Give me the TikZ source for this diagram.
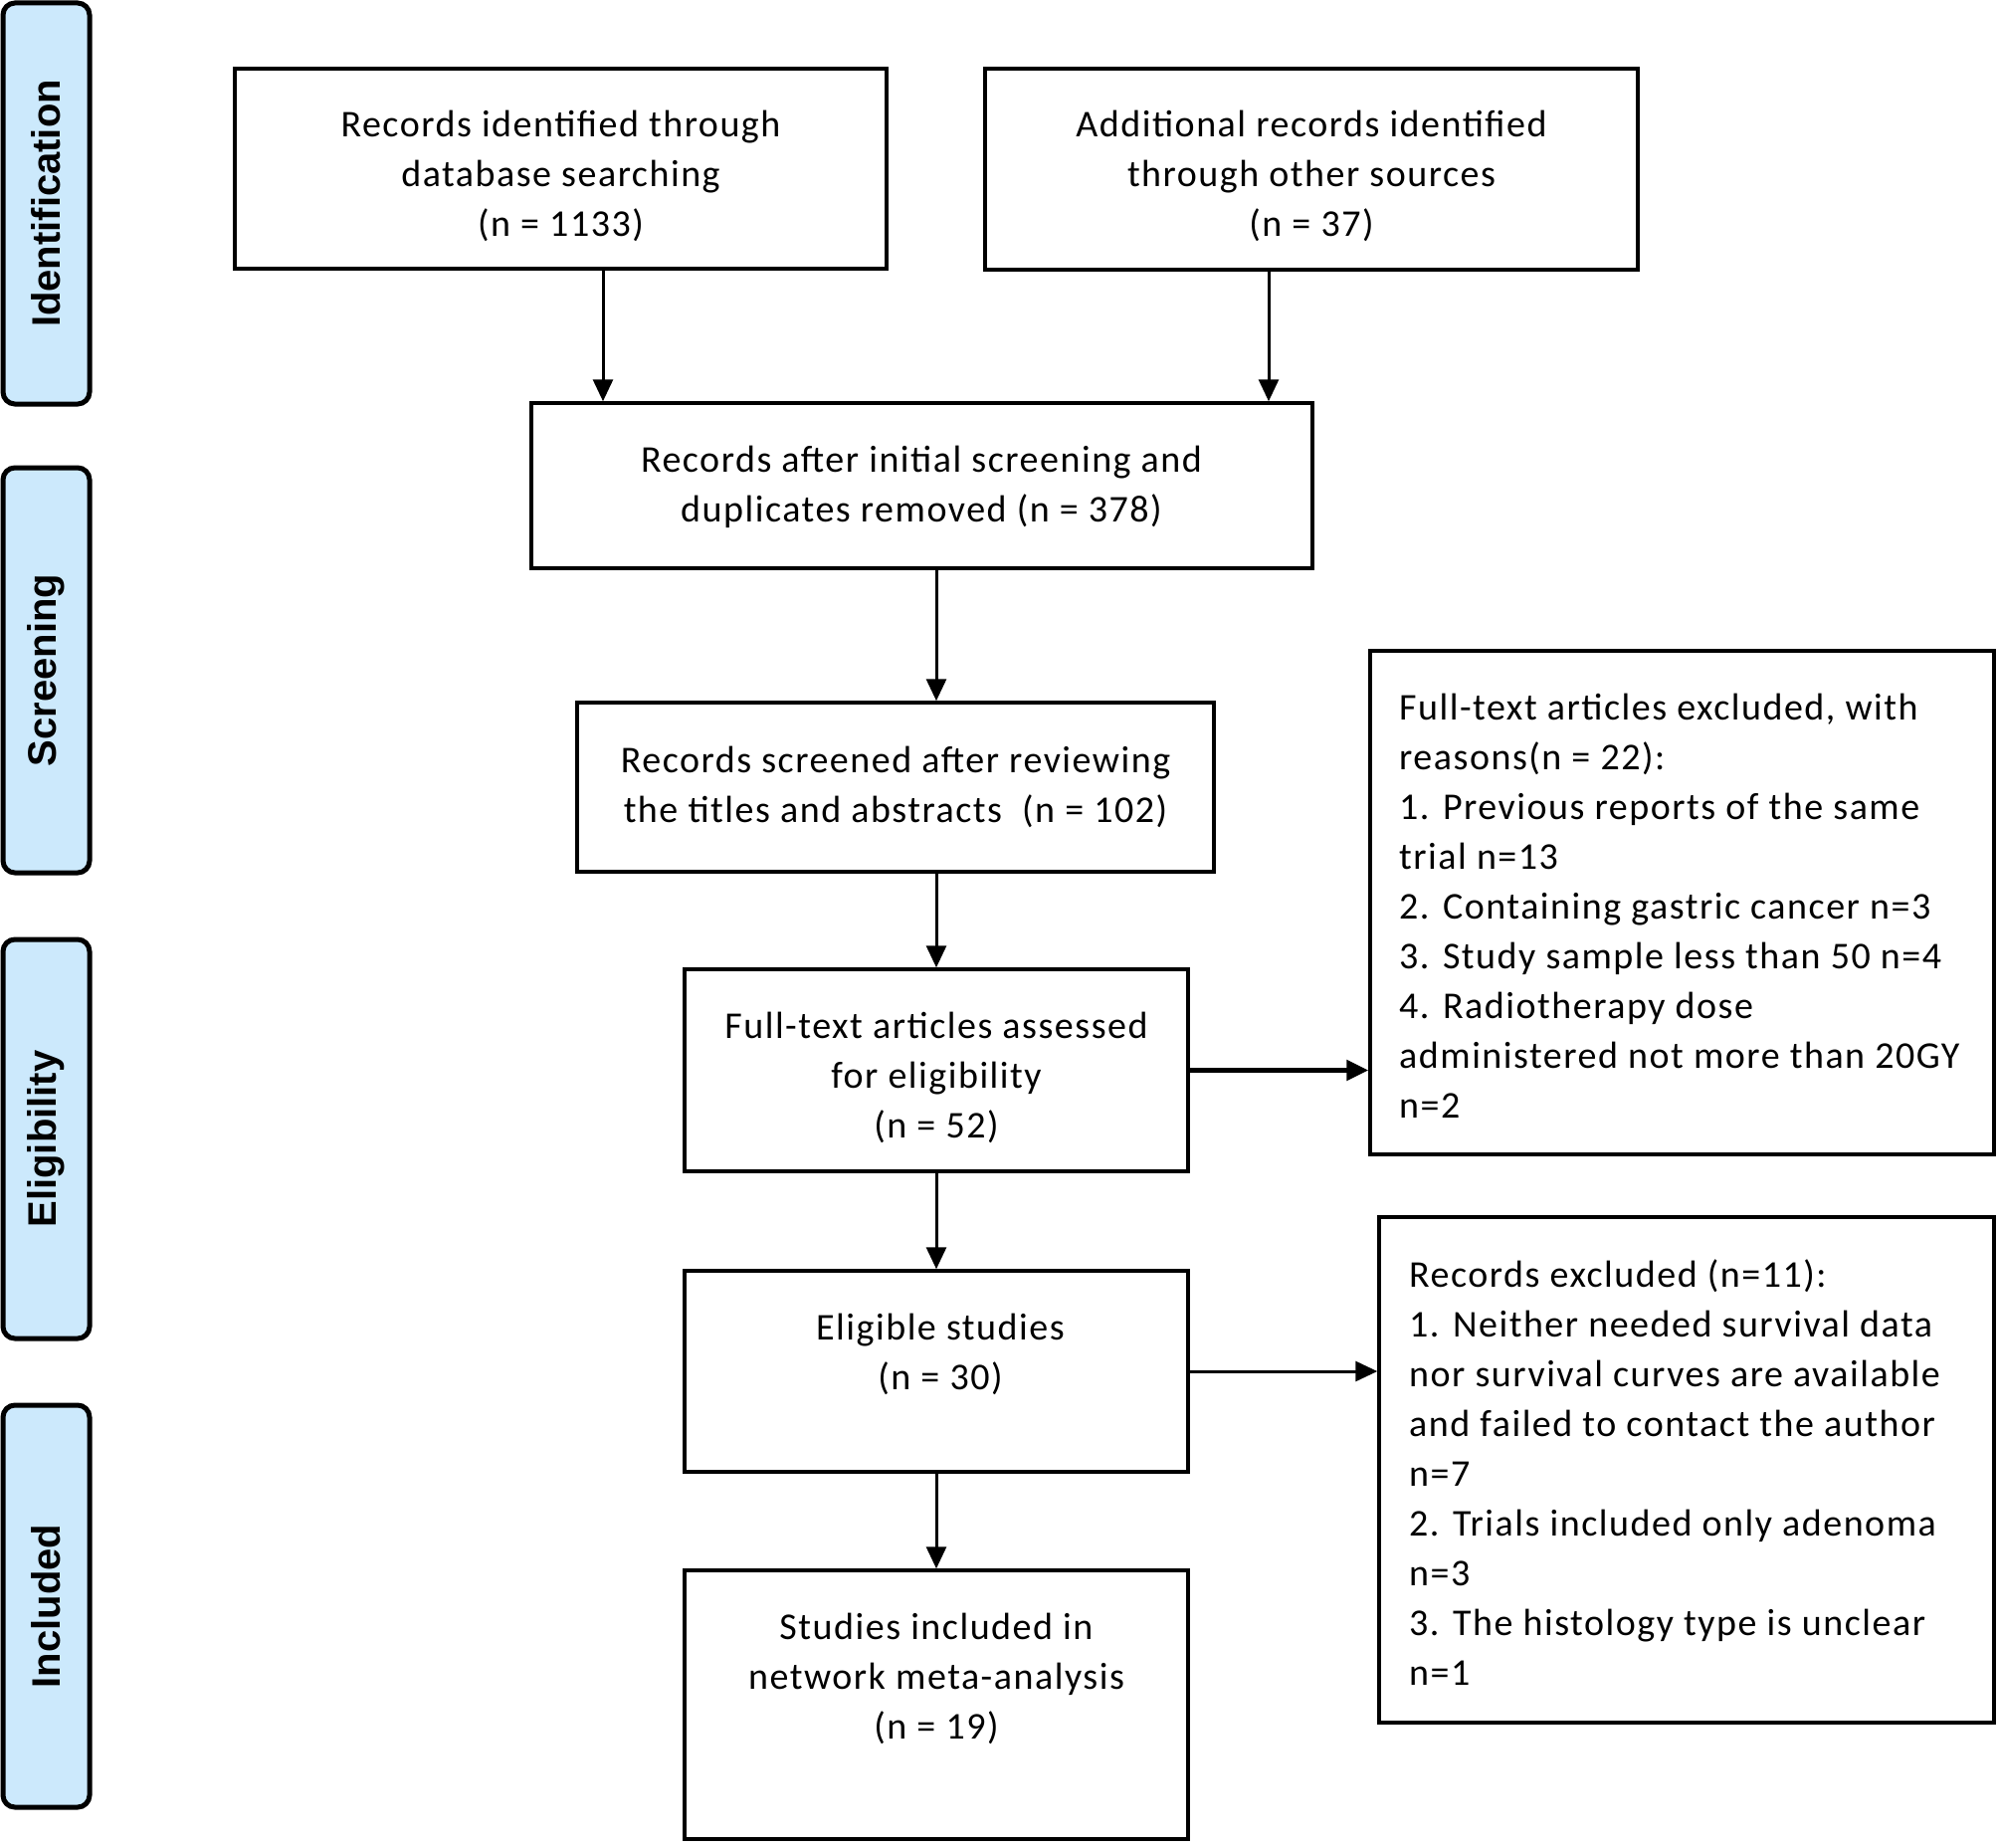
\documentclass[tikz,border=0pt]{standalone}
\usepackage{fontspec}
\setmainfont{Carlito}[LetterSpace=4.0]
\newfontfamily\sidefont{Liberation Sans}
\usetikzlibrary{arrows.meta}
\definecolor{sideblue}{RGB}{204,233,252}
\begin{document}
\begin{tikzpicture}[x=1pt,y=-1pt,
  box/.style={draw, line width=3.5pt, rectangle, inner sep=0pt},
  side/.style={draw, line width=5pt, fill=sideblue, rounded corners=12pt, rotate=90, inner sep=0pt,
     font=\sidefont\bfseries\fontsize{40}{46}\selectfont},
  txt/.style={font=\fontsize{38}{50}\selectfont, align=center, inner sep=0pt},
  ltxt/.style={font=\fontsize{38}{50}\selectfont, align=left, inner sep=0pt, anchor=west},
  arr/.style={-{Triangle[length=22pt,width=20pt]}, line width=3pt},
  arrb/.style={-{Triangle[length=22pt,width=20pt]}, line width=5pt}]
\useasboundingbox (0,0) rectangle (2008,1857);
% side labels
\node[side, minimum width=403pt, minimum height=87pt] (sid) at (46.5,204.5) {Identification};
\node[side, minimum width=407pt, minimum height=87pt] (scr) at (46.5,673.5) {Screening};
\node[side, minimum width=401pt, minimum height=87pt] (eli) at (46.5,1144.5) {Eligibility};
\node[side, minimum width=404pt, minimum height=87pt] (inc) at (46.5,1614) {Included};
% boxes
\node[box, minimum width=655pt, minimum height=201pt] (A) at (563.5,169.5) {};
\node[box, minimum width=656pt, minimum height=202pt] (B) at (1318,170) {};
\node[box, minimum width=785pt, minimum height=166pt] (C) at (926.5,488) {};
\node[box, minimum width=640pt, minimum height=170pt] (D) at (900,791) {};
\node[box, minimum width=506pt, minimum height=203pt] (E) at (941,1075.5) {};
\node[box, minimum width=506pt, minimum height=202pt] (F) at (941,1378) {};
\node[box, minimum width=506pt, minimum height=270pt] (G) at (941,1713) {};
\node[box, minimum width=627pt, minimum height=506pt] (H) at (1690.5,907) {};
\node[box, minimum width=618pt, minimum height=508pt] (I) at (1695,1477) {};
% texts
\node[txt] (tA) at (563.5,177) {Records identified through\\database searching\\(n = 1133)};
\node[txt] (tB) at (1318,177) {Additional records identified\\through other sources\\(n = 37)};
\node[txt] (tC) at (926,489) {Records after initial screening and\\duplicates removed (n = 378)};
\node[txt] (tD) at (900,791) {Records screened after reviewing\\the titles and abstracts~~(n = 102)};
\node[txt] (tE) at (941,1083) {Full-text articles assessed\\for eligibility\\(n = 52)};
\node[txt] (tF) at (945,1361) {Eligible studies\\(n = 30)};
\node[txt] (tG) at (941,1687) {Studies included in\\network meta-analysis\\(n = 19)};
\node[ltxt] (tH) at (1406,910) {Full-text articles excluded, with\\reasons(n = 22):\\1. Previous reports of the same\\trial n=13\\2. Containing gastric cancer n=3\\3. Study sample less than 50 n=4\\4. Radiotherapy dose\\administered not more than 20GY\\n=2};
\node[ltxt] (tI) at (1416,1480) {Records excluded (n=11):\\1. Neither needed survival data\\nor survival curves are available\\and failed to contact the author\\n=7\\2. Trials included only adenoma\\n=3\\3. The histology type is unclear\\n=1};
% connectors
\coordinate (xa) at (606,0);
\coordinate (xb) at (1275,0);
\draw[arr] (A.south -| xa) -- (C.north -| xa);
\draw[arr] (B.south -| xb) -- (C.north -| xb);
\draw[arr] (C.south -| E.north) -- (D.north -| E.north);
\draw[arr] (D.south -| E.north) -- (E.north);
\draw[arr] (E.south) -- (F.north);
\draw[arr] (F.south) -- (G.north);
\draw[arrb] (E.east) -- (E.east -| H.west);
\draw[arr] (F.east) -- (F.east -| I.west);
\end{tikzpicture}
\end{document}
